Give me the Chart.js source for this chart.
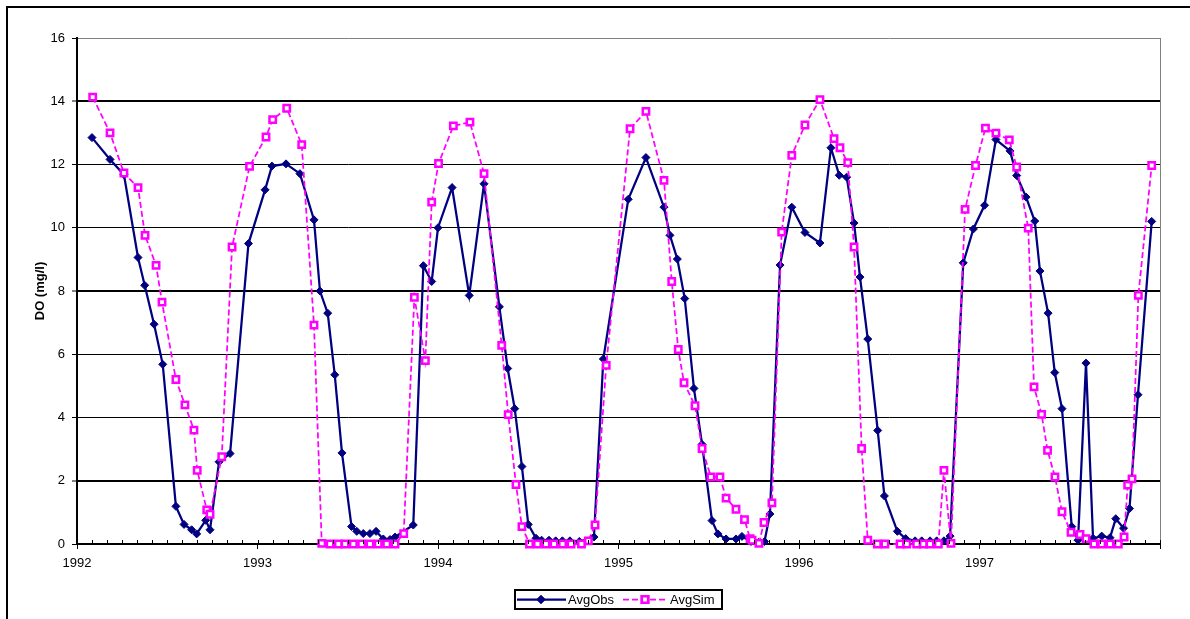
<!DOCTYPE html>
<html>
<head>
<meta charset="utf-8">
<title>DO</title>
<script src="https://cdn.jsdelivr.net/npm/chart.js@4.4.1/dist/chart.umd.min.js"></script>
<style>
  html, body { margin: 0; padding: 0; background: #fff; overflow: hidden; }
  #wrap { position: relative; width: 1190px; height: 619px; overflow: hidden; }
  #frame { position: absolute; left: 6px; top: 6px; width: 1300px; height: 700px; border: 2px solid #000; }
  #chart { position: absolute; left: 0; top: 0; }
</style>
</head>
<body>
<div id="wrap">
  <div id="frame"></div>
  <canvas id="chart" width="1190" height="619"></canvas>
</div>
<script>
// observed DO, decimal year / mg/l
const obsYear = [
  1992.083, 1992.183, 1992.260, 1992.338, 1992.375, 1992.427, 1992.475, 1992.548, 1992.593, 1992.635, 1992.663, 1992.713, 1992.737, 1992.787, 1992.848, 1992.950,
  1993.042, 1993.080, 1993.158, 1993.235, 1993.313, 1993.346, 1993.389, 1993.428, 1993.468, 1993.521, 1993.550, 1993.586, 1993.623, 1993.657, 1993.697, 1993.734, 1993.762, 1993.863, 1993.919, 1993.965,
  1994.000, 1994.078, 1994.173, 1994.255, 1994.340, 1994.386, 1994.425, 1994.465, 1994.500, 1994.543, 1994.574, 1994.615, 1994.652, 1994.689, 1994.731, 1994.783, 1994.864, 1994.916,
  1995.054, 1995.152, 1995.252, 1995.285, 1995.326, 1995.367, 1995.418, 1995.463, 1995.518, 1995.551, 1995.596, 1995.651, 1995.684, 1995.734, 1995.775, 1995.809, 1995.839, 1995.895, 1995.960,
  1996.033, 1996.116, 1996.177, 1996.223, 1996.264, 1996.305, 1996.338, 1996.381, 1996.436, 1996.473, 1996.545, 1996.591, 1996.643, 1996.680, 1996.726, 1996.763, 1996.803, 1996.837, 1996.910, 1996.966,
  1997.028, 1997.091, 1997.169, 1997.206, 1997.258, 1997.306, 1997.335, 1997.380, 1997.417, 1997.457, 1997.511, 1997.546, 1997.590, 1997.629, 1997.677, 1997.723, 1997.755, 1997.798, 1997.831, 1997.878, 1997.954
];
const obsDO = [
  12.85, 12.16, 11.68, 9.06, 8.18, 6.95, 5.68, 1.19, 0.62, 0.45, 0.32, 0.75, 0.45, 2.6, 2.86, 9.5,
  11.2, 11.95, 12.02, 11.71, 10.25, 8.0, 7.3, 5.35, 2.88, 0.55, 0.4, 0.33, 0.33, 0.4, 0.16, 0.14, 0.22, 0.6, 8.8, 8.3,
  10.0, 11.27, 7.86, 11.39, 7.5, 5.55, 4.28, 2.45, 0.62, 0.18, 0.12, 0.12, 0.1, 0.1, 0.1, 0.08, 0.22, 5.85,
  10.9, 12.22, 10.65, 9.76, 9.01, 7.76, 4.92, 3.15, 0.74, 0.32, 0.16, 0.16, 0.24, 0.08, 0.05, 0.08, 0.95, 8.82, 10.65,
  9.85, 9.52, 12.53, 11.66, 11.6, 10.15, 8.44, 6.48, 3.59, 1.52, 0.4, 0.17, 0.1, 0.1, 0.1, 0.1, 0.1, 0.25, 8.89, 9.96,
  10.71, 12.79, 12.43, 11.65, 10.97, 10.21, 8.63, 7.3, 5.42, 4.28, 0.55, 0.12, 5.72, 0.18, 0.25, 0.2, 0.8, 0.5, 1.12, 4.72, 10.2
];

// simulated DO
const simYear = [
  1992.087, 1992.183, 1992.260, 1992.338, 1992.377, 1992.438, 1992.471, 1992.548, 1992.598, 1992.648, 1992.666, 1992.719, 1992.737, 1992.802, 1992.859, 1992.956,
  1993.047, 1993.084, 1993.162, 1993.245, 1993.313, 1993.356, 1993.402, 1993.448, 1993.485, 1993.531, 1993.577, 1993.623, 1993.669, 1993.716, 1993.762, 1993.810, 1993.869, 1993.930, 1993.965,
  1994.003, 1994.085, 1994.177, 1994.255, 1994.353, 1994.389, 1994.432, 1994.465, 1994.507, 1994.551, 1994.598, 1994.643, 1994.690, 1994.737, 1994.795, 1994.833, 1994.870, 1994.932,
  1995.064, 1995.152, 1995.252, 1995.295, 1995.331, 1995.363, 1995.424, 1995.463, 1995.512, 1995.562, 1995.596, 1995.651, 1995.698, 1995.729, 1995.740, 1995.778, 1995.806, 1995.850, 1995.904, 1995.960,
  1996.033, 1996.116, 1996.194, 1996.227, 1996.270, 1996.305, 1996.347, 1996.381, 1996.434, 1996.476, 1996.560, 1996.597, 1996.652, 1996.689, 1996.726, 1996.772, 1996.803, 1996.842, 1996.920, 1996.978,
  1997.033, 1997.091, 1997.165, 1997.206, 1997.270, 1997.302, 1997.344, 1997.377, 1997.418, 1997.457, 1997.507, 1997.557, 1997.590, 1997.634, 1997.677, 1997.723, 1997.769, 1997.801, 1997.821, 1997.845, 1997.880, 1997.954
];
const simDO = [
  14.13, 13.0, 11.73, 11.27, 9.76, 8.81, 7.65, 5.2, 4.4, 3.6, 2.33, 1.08, 0.94, 2.76, 9.39, 11.94,
  12.87, 13.42, 13.78, 12.63, 6.92, 0.02, 0, 0, 0, 0, 0, 0, 0, 0, 0, 0.33, 7.8, 5.8, 10.81,
  12.03, 13.22, 13.34, 11.71, 6.28, 4.09, 1.88, 0.55, 0, 0, 0, 0, 0, 0, 0, 0.1, 0.6, 5.65,
  13.13, 13.68, 11.5, 8.3, 6.15, 5.1, 4.37, 3.02, 2.12, 2.12, 1.45, 1.1, 0.77, 0.17, 0.12, 0.02, 0.68, 1.3, 9.86, 12.29,
  13.25, 14.05, 12.82, 12.53, 12.06, 9.39, 3.02, 0.12, 0, 0, 0, 0, 0, 0, 0, 0, 2.33, 0.02, 10.58, 11.97,
  13.15, 12.99, 12.78, 11.92, 9.99, 4.97, 4.1, 2.96, 2.12, 1.02, 0.37, 0.3, 0.17, 0, 0, 0, 0, 0.22, 1.86, 2.06, 7.86, 11.97
];

const yearLabels = ['1992', '1993', '1994', '1995', '1996', '1997'];
const yTicks = [0, 2, 4, 6, 8, 10, 12, 14, 16];

const FONT = "'Liberation Sans', Arial, sans-serif";
const NAVY = '#000080';
const PINK = '#FF00FF';

const toPoints = (xs, ys) => xs.map((x, i) => ({ x: x, y: ys[i] }));

// month ticks, 1992-01 .. 1998-01
const monthTicks = [];
for (let m = 0; m <= 72; m++) monthTicks.push(1992 + m / 12);
const monthIndex = v => Math.round((v - 1992) * 12);
const isYear = v => monthIndex(v) % 12 === 0;

// right border, inside minor ticks, legend box
const extras = {
  id: 'extras',
  afterDraw(chart) {
    const { ctx, chartArea: a, scales } = chart;
    ctx.save();
    ctx.strokeStyle = '#808080';
    ctx.lineWidth = 1;
    ctx.beginPath();
    ctx.moveTo(Math.round(a.right) + 0.5, a.top);
    ctx.lineTo(Math.round(a.right) + 0.5, a.bottom);
    ctx.stroke();

    ctx.strokeStyle = '#000';
    ctx.beginPath();
    monthTicks.forEach(v => {
      const px = Math.round(scales.x.getPixelForValue(v)) + 0.5;
      ctx.moveTo(px, a.bottom);
      ctx.lineTo(px, a.bottom - 4);
    });
    ctx.stroke();

    // legend
    ctx.lineWidth = 2;
    ctx.strokeRect(515, 590, 207, 19);
    const ly = 599.5;
    ctx.strokeStyle = NAVY;
    ctx.lineWidth = 2.25;
    ctx.beginPath();
    ctx.moveTo(517, ly);
    ctx.lineTo(566, ly);
    ctx.stroke();
    ctx.fillStyle = NAVY;
    ctx.lineWidth = 1;
    Chart.helpers.drawPoint(ctx, { pointStyle: 'rectRot', radius: 4, borderWidth: 1 }, 541, ly);
    ctx.fill();
    ctx.stroke();

    ctx.strokeStyle = PINK;
    ctx.lineWidth = 1.75;
    ctx.setLineDash([6, 3]);
    ctx.beginPath();
    ctx.moveTo(623, ly);
    ctx.lineTo(668, ly);
    ctx.stroke();
    ctx.setLineDash([]);
    ctx.lineWidth = 2.5;
    ctx.fillStyle = '#fff';
    Chart.helpers.drawPoint(ctx, { pointStyle: 'rect', radius: 4.5, borderWidth: 2.5 }, 645, ly);
    ctx.fill();
    ctx.stroke();

    ctx.fillStyle = '#000';
    ctx.font = '13px ' + FONT;
    ctx.textBaseline = 'middle';
    ctx.textAlign = 'left';
    ctx.fillText('AvgObs', 568, ly + 0.5);
    ctx.fillText('AvgSim', 670, ly + 0.5);
    ctx.restore();
  }
};

new Chart(document.getElementById('chart'), {
  type: 'line',
  data: {
    datasets: [
      {
        label: 'AvgSim',
        data: toPoints(simYear, simDO),
        borderColor: PINK,
        borderWidth: 1.75,
        borderDash: [6, 3],
        pointStyle: 'rect',
        pointRadius: 4.5,
        pointBackgroundColor: '#fff',
        pointBorderColor: PINK,
        pointBorderWidth: 2.5,
        tension: 0,
        clip: false,
        order: 0
      },
      {
        label: 'AvgObs',
        data: toPoints(obsYear, obsDO),
        borderColor: NAVY,
        borderWidth: 2.25,
        pointStyle: 'rectRot',
        pointRadius: 4,
        pointBackgroundColor: NAVY,
        pointBorderColor: NAVY,
        pointBorderWidth: 1,
        tension: 0,
        clip: false,
        order: 1
      }
    ]
  },
  options: {
    responsive: false,
    animation: false,
    events: [],
    layout: { padding: { left: 20, top: 38, right: 30, bottom: 35 } },
    plugins: { legend: { display: false }, tooltip: { enabled: false } },
    scales: {
      x: {
        type: 'linear',
        min: 1992,
        max: 1998,
        afterBuildTicks: s => { s.ticks = monthTicks.map(v => ({ value: v })); },
        afterFit: s => { s.height = 40; },
        grid: {
          drawOnChartArea: false,
          tickLength: 5,
          lineWidth: 1,
          color: c => (c.tick && isYear(c.tick.value)) ? '#000' : 'rgba(0,0,0,0)'
        },
        border: { color: '#000', width: 2 },
        ticks: {
          autoSkip: false,
          maxRotation: 0,
          padding: 7,
          color: '#000',
          font: { family: FONT, size: 13 },
          callback: v => isYear(v) ? (yearLabels[monthIndex(v) / 12] || '') : ''
        }
      },
      y: {
        min: 0,
        max: 16,
        afterBuildTicks: s => { s.ticks = yTicks.map(v => ({ value: v })); },
        afterFit: s => { s.width = 57; },
        grid: {
          tickLength: 5,
          tickColor: '#000',
          tickWidth: 1,
          color: c => c.tick && c.tick.value === 16 ? '#808080' : '#000',
          lineWidth: c => c.tick && [2, 8, 14].includes(c.tick.value) ? 2 : 1
        },
        border: { color: '#000', width: 2 },
        ticks: {
          padding: 7,
          color: '#000',
          font: { family: FONT, size: 13 }
        },
        title: {
          display: true,
          text: 'DO (mg/l)',
          color: '#000',
          padding: { top: 13, bottom: 0 },
          font: { family: FONT, size: 13, weight: 'bold' }
        }
      }
    }
  },
  plugins: [extras]
});
</script>
</body>
</html>
